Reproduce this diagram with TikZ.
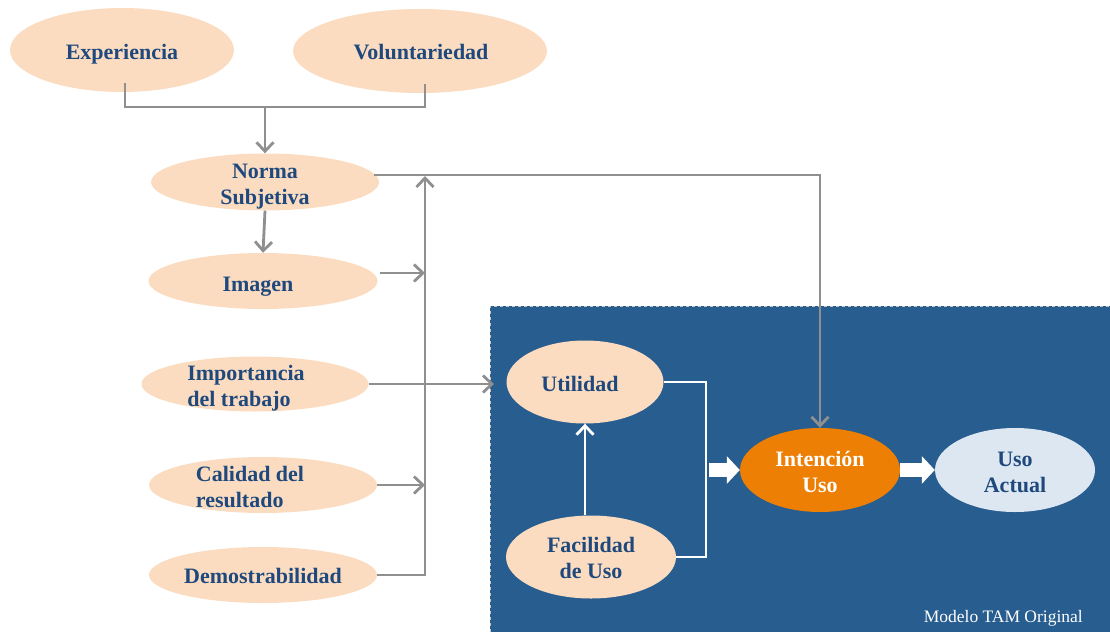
\documentclass[tikz,border=0pt]{standalone}
\usepackage{fontspec}
\setmainfont{Liberation Serif}
\usetikzlibrary{arrows.meta,shapes.geometric,calc}
\definecolor{peach}{HTML}{FBDCC0}
\definecolor{navy}{HTML}{1F497D}
\definecolor{boxblue}{HTML}{285D8F}
\definecolor{orangeN}{HTML}{EC7F04}
\definecolor{lightN}{HTML}{DDE7F2}
\definecolor{lgray}{HTML}{8F8F8F}
\begin{document}
\begin{tikzpicture}[x=1pt,y=-1pt,
  oval/.style={ellipse, fill=peach, draw=none, inner sep=0pt},
  txt/.style={font=\fontsize{22}{26}\selectfont\bfseries, text=navy, align=center, inner sep=0pt, anchor=base},
  gline/.style={draw=lgray, line width=2.8pt},
  garrow/.style={gline, -{Straight Barb[length=9pt,width=17pt,line width=2.8pt]}},
  wline/.style={draw=white, line width=2.8pt},
  warrow/.style={wline, -{Straight Barb[length=9pt,width=17pt,line width=2.8pt]}},
  bigarrow/.style={draw=white, line width=14pt, -{Triangle[length=13pt,width=27pt]}}
]
\useasboundingbox (0,0) rectangle (1110,632);
% blue panel
\fill[boxblue] (490,306) rectangle (1110,632);
\draw[dashed, draw=gray!45, line width=1pt] (490,632) -- (490,306) -- (1110,306);

% ellipses
\node[oval, minimum width=224pt, minimum height=84pt] (exp) at (122,50) {};
\node[oval, minimum width=254pt, minimum height=84pt] (vol) at (420,51) {};
\node[oval, minimum width=228pt, minimum height=57pt] (norm) at (265,182) {};
\node[oval, minimum width=229pt, minimum height=56pt] (img) at (263,281) {};
\node[oval, minimum width=227pt, minimum height=55pt] (imp) at (255,384) {};
\node[oval, minimum width=228pt, minimum height=56pt] (cal) at (263,485) {};
\node[oval, minimum width=228pt, minimum height=56pt] (dem) at (263,575) {};
\node[oval, minimum width=157pt, minimum height=83pt] (util) at (585,382) {};
\node[oval, minimum width=170pt, minimum height=83pt] (fac) at (591,557) {};
\node[ellipse, fill=orangeN, inner sep=0pt, minimum width=160pt, minimum height=84pt] (int) at (820,470) {};
\node[ellipse, fill=lightN, inner sep=0pt, minimum width=160pt, minimum height=84pt] (act) at (1015,470) {};

% texts (anchor base = last line baseline)
\node[txt] (expt) at (122,59) {Experiencia};
\node[txt] (volt) at (421,59) {Voluntariedad};
\node[txt] (normt) at (265,204) {Norma\\Subjetiva};
\node[txt] (imgt) at (258,291) {Imagen};
\node[txt, align=left] (impt) at (246,406) {Importancia\\del trabajo};
\node[txt, align=left] (calt) at (250,507) {Calidad del\\resultado};
\node[txt] (demt) at (263,583) {Demostrabilidad};
\node[txt] (utilt) at (580,391) {Utilidad};
\node[txt] (fact) at (591,578) {Facilidad\\de Uso};
\node[txt, text=white] (intt) at (820,492) {Intención\\Uso};
\node[txt] (actt) at (1015,492) {Uso\\Actual};
\node[anchor=base east, inner sep=0pt, font=\fontsize{17.5}{20}\selectfont, text=white] (cap) at (1083,622) {Modelo TAM Original};

% coordinates
\coordinate (j) at (265,107);
\coordinate (top) at (425,176);
\coordinate (uin) at (494,384);
\coordinate (brk) at (706,470);

% gray connectors
\draw[gline] ($(exp.south)+(3,-9)$) |- (j) -| ($(vol.south)+(5,-9)$);
\draw[garrow] (j) -- (norm.north);
\draw[garrow] (norm.south) -- (img.north);
\draw[garrow] ($(norm.east)+(-5,-7)$) -| (int.north);
\draw[garrow] (dem.east) -| (top);
\draw[garrow] ($(img.east)+(2,-8)$) -- ($(img.east -| top)+(0,-8)$);
\draw[garrow] (cal.east) -- (cal.east -| top);
\draw[garrow] (imp.east) -- (uin);

% white connectors
\draw[warrow] (fac.north -| util.south) -- (util.south);
\draw[wline] (util.east) -| (brk) |- (fac.east);
\draw[bigarrow] ($(brk)+(3,0)$) -- (int.west);
\draw[bigarrow] (int.east) -- (act.west);
\end{tikzpicture}
\end{document}
